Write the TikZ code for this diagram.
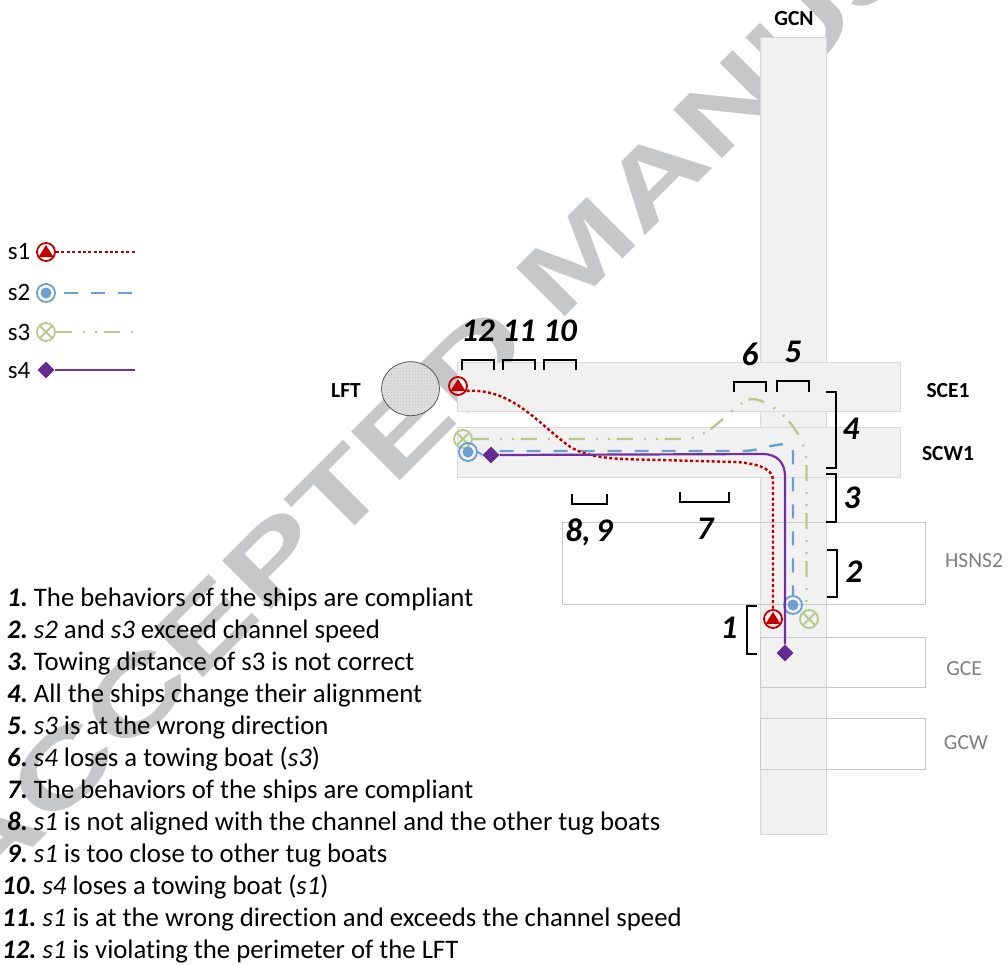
\documentclass[tikz,border=0pt]{standalone}
\usepackage{fontspec}
\setmainfont{Carlito}[Ligatures=NoCommon]
\newfontfamily\wmfont{Liberation Sans}
\usetikzlibrary{patterns,calc,shapes.geometric}
\definecolor{wm}{HTML}{C5C7C9}
\definecolor{road}{HTML}{F1F1F1}
\definecolor{roadb}{HTML}{DADADA}
\definecolor{boxb}{HTML}{C8C8C8}
\definecolor{cA}{HTML}{C00000}
\definecolor{cB}{HTML}{6A9FCF}
\definecolor{cC}{HTML}{B7C98D}
\definecolor{cD}{HTML}{7030A0}
\definecolor{cDd}{HTML}{642A90}
\definecolor{lab}{HTML}{7F7F7F}
\newcommand{\fs}[1]{\fontsize{#1}{#1}\selectfont}
\tikzset{
  roadbox/.style={draw=roadb,fill=road,line width=1pt},
  zonebox/.style={draw=boxb,line width=1pt},
  brk/.style={draw=black,line width=1.4pt,line cap=butt},
  numlab/.style={font=\fs{33}\bfseries\itshape,inner sep=0pt},
  arealab/.style={font=\fs{21.5}\bfseries,inner sep=0pt},
  graylab/.style={font=\fs{21.5},text=lab,inner sep=0pt},
  leglab/.style={font=\fs{25},inner sep=0pt},
  itemlab/.style={font=\fs{26.75},anchor=base west,inner sep=0pt},
  lineA/.style={draw=cA,line width=2.4pt,dash pattern=on 3pt off 2.4pt},
  lineB/.style={draw=cB,line width=2.4pt,dash pattern=on 14pt off 13pt},
  lineC/.style={draw=cC,line width=2.4pt,dash pattern=on 16pt off 11pt on 2pt off 10pt on 2pt off 7pt},
  lineD/.style={draw=cD,line width=2.2pt},
  markA/.style={circle,draw=cA,line width=1.8pt,inner sep=0pt,minimum size=18pt,
    path picture={\fill[cA] (path picture bounding box.center) +(0,-7) -- +(7.5,5) -- +(-7.5,5) -- cycle;}},
  markB/.style={circle,draw=cB,line width=1.8pt,inner sep=0pt,minimum size=18pt,
    path picture={\fill[cB] (path picture bounding box.center) circle (5.5pt);}},
  markC/.style={circle,draw=cC,line width=1.8pt,inner sep=0pt,minimum size=18pt,
    path picture={\draw[cC,line width=1.8pt] (path picture bounding box.north west) -- (path picture bounding box.south east)
      (path picture bounding box.north east) -- (path picture bounding box.south west);}},
  markD/.style={diamond,fill=cDd,inner sep=0pt,minimum size=17pt},
  lftc/.style={ellipse,draw=black!65,line width=.8pt,inner sep=0pt,minimum width=58pt,minimum height=54pt,
    preaction={fill=black!12},pattern=crosshatch dots,pattern color=black!25},
}
\begin{document}
\begin{tikzpicture}[x=1pt,y=-1pt]
\useasboundingbox (0,0) rectangle (1008,964);
% watermark
\node[anchor=base west,inner sep=0pt,rotate=45,xscale=1.43,transform shape,text=wm,font=\fs{100}\wmfont\bfseries] (wmtext) at (-22.3,903.5) {ACCEPTED\hspace{-4pt} MANUSCRIPT};
% areas
\path[roadbox] (760,37) rectangle (826,834);
\path[roadbox] (457,362) rectangle (900,411);
\path[roadbox] (457,427) rectangle (900,477);
\path[zonebox] (562,522) rectangle (925,604);
\path[zonebox] (760,637) rectangle (925,687);
\path[zonebox] (760,718) rectangle (925,769);
\node[lftc] (lftcircle) at (410.5,388.7) {};
% area labels
\node[arealab] (gcn) at (794,19) {GCN};
\node[arealab] (lfttext) at (346,391) {LFT};
\node[arealab] (sce) at (948,391) {SCE1};
\node[arealab] (scw) at (948,454) {SCW1};
\node[graylab] (hsns) at (974,561) {HSNS2};
\node[graylab] (gce) at (964,669) {GCE};
\node[graylab] (gcw) at (966,743) {GCW};
% markers
\node[markA] (s1a) at (458,386) {};
\node[markA] (s1b) at (773,619) {};
\node[markC] (s3a) at (463,439) {};
\node[markC] (s3b) at (809,619) {};
\node[markB] (s2a) at (468,452) {};
\node[markB] (s2b) at (793,605) {};
\node[markD] (s4a) at (491,455) {};
\node[markD] (s4b) at (785,653) {};
% tracks
\draw[lineC] (s3a.east) -- (687,439) .. controls (715,436) and (735,400) .. (753,399)
  .. controls (772,400) and (806,430) .. (806.5,463) -- (s3b.105);
\draw[cB,line width=2pt] (s2a.east) -- (s4a.west);
\draw[lineB] (s4a.east) ++(0,-4) -- (745,451) .. controls (760,450) and (770,445) .. (785,444)
  .. controls (790,444) and (793,447) .. (793,452) -- (s2b.north);
\draw[lineA] (s1a.-30) .. controls (510,388) and (535,420) .. (565,443)
  .. controls (585,460) and (620,459) .. (660,460) -- (735,462)
  .. controls (755,463) and (773,468) .. (773,480) -- (s1b.north);
\draw[lineD] (s4a.east) -- (763,454) .. controls (777,454) and (785,463) .. (785,476) -- (s4b.north);
% brackets
\draw[brk] (462,370) |- (494,360) -- (494,370);
\draw[brk] (503,370) |- (535,360) -- (535,370);
\draw[brk] (544,370) |- (576,360) -- (576,370);
\draw[brk] (572,494) |- (607,504) -- (607,494);
\draw[brk] (680,492) |- (729,502) -- (729,492);
\draw[brk] (734,392) |- (766,382) -- (766,392);
\draw[brk] (777,392) |- (809,381) -- (809,392);
\draw[brk] (826,392) -| (836,468) -- (826,468);
\draw[brk] (826,474) -| (836,522) -- (826,522);
\draw[brk] (827,550) -| (837,597) -- (827,597);
\draw[brk] (757,606) -| (747,654) -- (757,654);
% bracket labels
\node[numlab] (n12) at (478,331) {12};
\node[numlab] (n11) at (519,331) {11};
\node[numlab] (n10) at (560,331) {10};
\node[numlab] (n89) at (589,532) {8,\hspace{-2pt} 9};
\node[numlab] (n7) at (705,529) {7};
\node[numlab] (n6) at (750,354) {6};
\node[numlab] (n5) at (793,352) {5};
\node[numlab] (n4) at (851,429) {4};
\node[numlab] (n3) at (852,498) {3};
\node[numlab] (n2) at (854,572) {2};
\node[numlab] (n1) at (729,628) {1};
% legend
\node[leglab] (t1) at (19,252) {s1};
\node[leglab] (t2) at (19,292) {s2};
\node[leglab] (t3) at (19,332) {s3};
\node[leglab] (t4) at (19,371) {s4};
\node[markA] (l1) at (46,252) {};
\node[markB] (l2) at (46,293) {};
\node[markC] (l3) at (46,332) {};
\node[markD] (l4) at (46,370) {};
\coordinate (e1) at (135,252);
\coordinate (e2) at (135,293);
\coordinate (e3) at (133,332);
\coordinate (e4) at (135,370);
\draw[lineA] (l1.east) -- (e1);
\draw[lineB] ($(l2.east)+(8,0)$) -- (e2);
\draw[lineC] (l3.east) -- (e3);
\draw[lineD] (l4.east) -- (e4);
% list
\node[itemlab] (i1) at (7,606) {\textbf{\textit{1.}}\hspace{-2pt} The behaviors of the ships are compliant};
\node[itemlab] (i2) at (7,638) {\textbf{\textit{2.}}\hspace{-2pt} \textit{s2} and \textit{s3} exceed channel speed};
\node[itemlab] (i3) at (7,670) {\textbf{\textit{3.}}\hspace{-2pt} Towing distance of s3 is not correct};
\node[itemlab] (i4) at (7,702) {\textbf{\textit{4.}}\hspace{-2pt} All the ships change their alignment};
\node[itemlab] (i5) at (7,734) {\textbf{\textit{5.}}\hspace{-2pt} \textit{s3} is at the wrong direction};
\node[itemlab] (i6) at (7,766) {\textbf{\textit{6.}}\hspace{-2pt} \textit{s4} loses a towing boat (\textit{s3})};
\node[itemlab] (i7) at (7,798) {\textbf{\textit{7.}}\hspace{-2pt} The behaviors of the ships are compliant};
\node[itemlab] (i8) at (7,830) {\textbf{\textit{8.}}\hspace{-2pt} \textit{s1} is not aligned with the channel and the other tug boats};
\node[itemlab] (i9) at (7,862) {\textbf{\textit{9.}}\hspace{-2pt} \textit{s1} is too close to other tug boats};
\node[itemlab] (i10) at (2,894) {\textbf{\textit{10.}}\hspace{-2pt} \textit{s4} loses a towing boat (\textit{s1})};
\node[itemlab] (i11) at (2,926) {\textbf{\textit{11.}}\hspace{-2pt} \textit{s1} is at the wrong direction and exceeds the channel speed};
\node[itemlab] (i12) at (2,958) {\textbf{\textit{12.}}\hspace{-2pt} \textit{s1} is violating the perimeter of the LFT};
\end{tikzpicture}
\end{document}
